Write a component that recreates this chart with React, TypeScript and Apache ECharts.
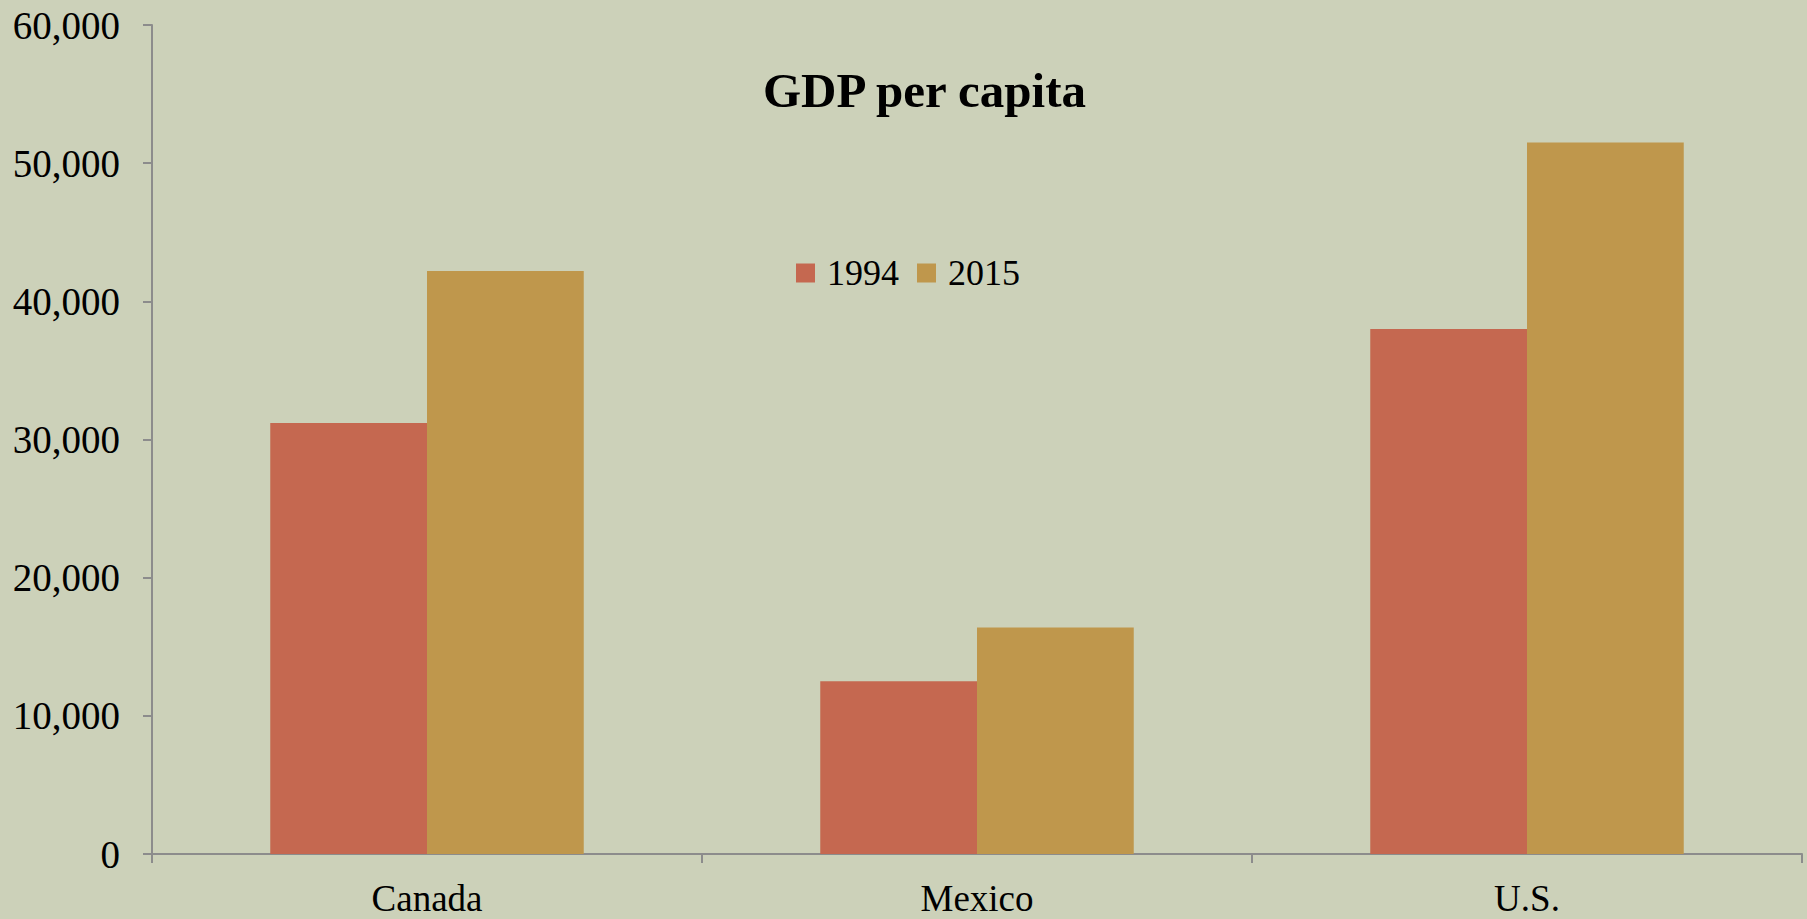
import React, { useEffect, useRef } from "react";
import * as echarts from "echarts";

const categories = ["Canada", "Mexico", "U.S."];
const seriesNames = ["1994", "2015"];
const values1994 = [31200, 12500, 38000];
const values2015 = [42200, 16400, 51500];
const yTicks = { min: 0, max: 60000, interval: 10000 };

const FONT = '"Liberation Serif", "Times New Roman", serif';

export default function App() {
  const ref = useRef<HTMLDivElement>(null);
  useEffect(() => {
    document.body.style.margin = "0";
    const chart = echarts.init(ref.current!, null, { renderer: "svg" });
    chart.setOption({
      animation: false,
      backgroundColor: "#CCD1B9",
      textStyle: { fontFamily: FONT },
      title: {
        text: "GDP per capita",
        left: 763,
        top: 66,
        padding: 0,
        textStyle: { fontFamily: FONT, fontSize: 49, fontWeight: "bold", color: "#000" },
      },
      legend: {
        data: seriesNames,
        left: 796,
        top: 255,
        padding: 0,
        itemWidth: 19,
        itemHeight: 19,
        itemGap: 18,
        icon: "rect",
        textStyle: { fontFamily: FONT, fontSize: 36, color: "#000", padding: [0, 0, 0, 7] },
      },
      grid: { left: 152, right: 5, top: 25, bottom: 65, containLabel: false },
      xAxis: {
        type: "category",
        data: categories,
        axisLine: { lineStyle: { color: "#8C8C8C", width: 2 } },
        axisTick: { show: true, length: 9, lineStyle: { color: "#8C8C8C", width: 2 } },
        axisLabel: { fontFamily: FONT, fontSize: 37, color: "#000", margin: 26 },
      },
      yAxis: {
        type: "value",
        min: yTicks.min,
        max: yTicks.max,
        interval: yTicks.interval,
        splitLine: { show: false },
        axisLine: { show: true, lineStyle: { color: "#8C8C8C", width: 2 } },
        axisTick: { show: true, length: 9, lineStyle: { color: "#8C8C8C", width: 2 } },
        axisLabel: {
          fontFamily: FONT,
          fontSize: 39,
          color: "#000",
          margin: 32,
          formatter: (v: number) => v.toLocaleString("en-US"),
        },
      },
      series: [
        {
          name: seriesNames[0],
          type: "bar",
          data: values1994,
          itemStyle: { color: "#C56850" },
          barGap: "0%",
          barCategoryGap: "43%",
        },
        {
          name: seriesNames[1],
          type: "bar",
          data: values2015,
          itemStyle: { color: "#BF974C" },
          barGap: "0%",
          barCategoryGap: "43%",
        },
      ],
    });
    return () => chart.dispose();
  }, []);
  return <div ref={ref} style={{ width: 1807, height: 919 }} />;
}
